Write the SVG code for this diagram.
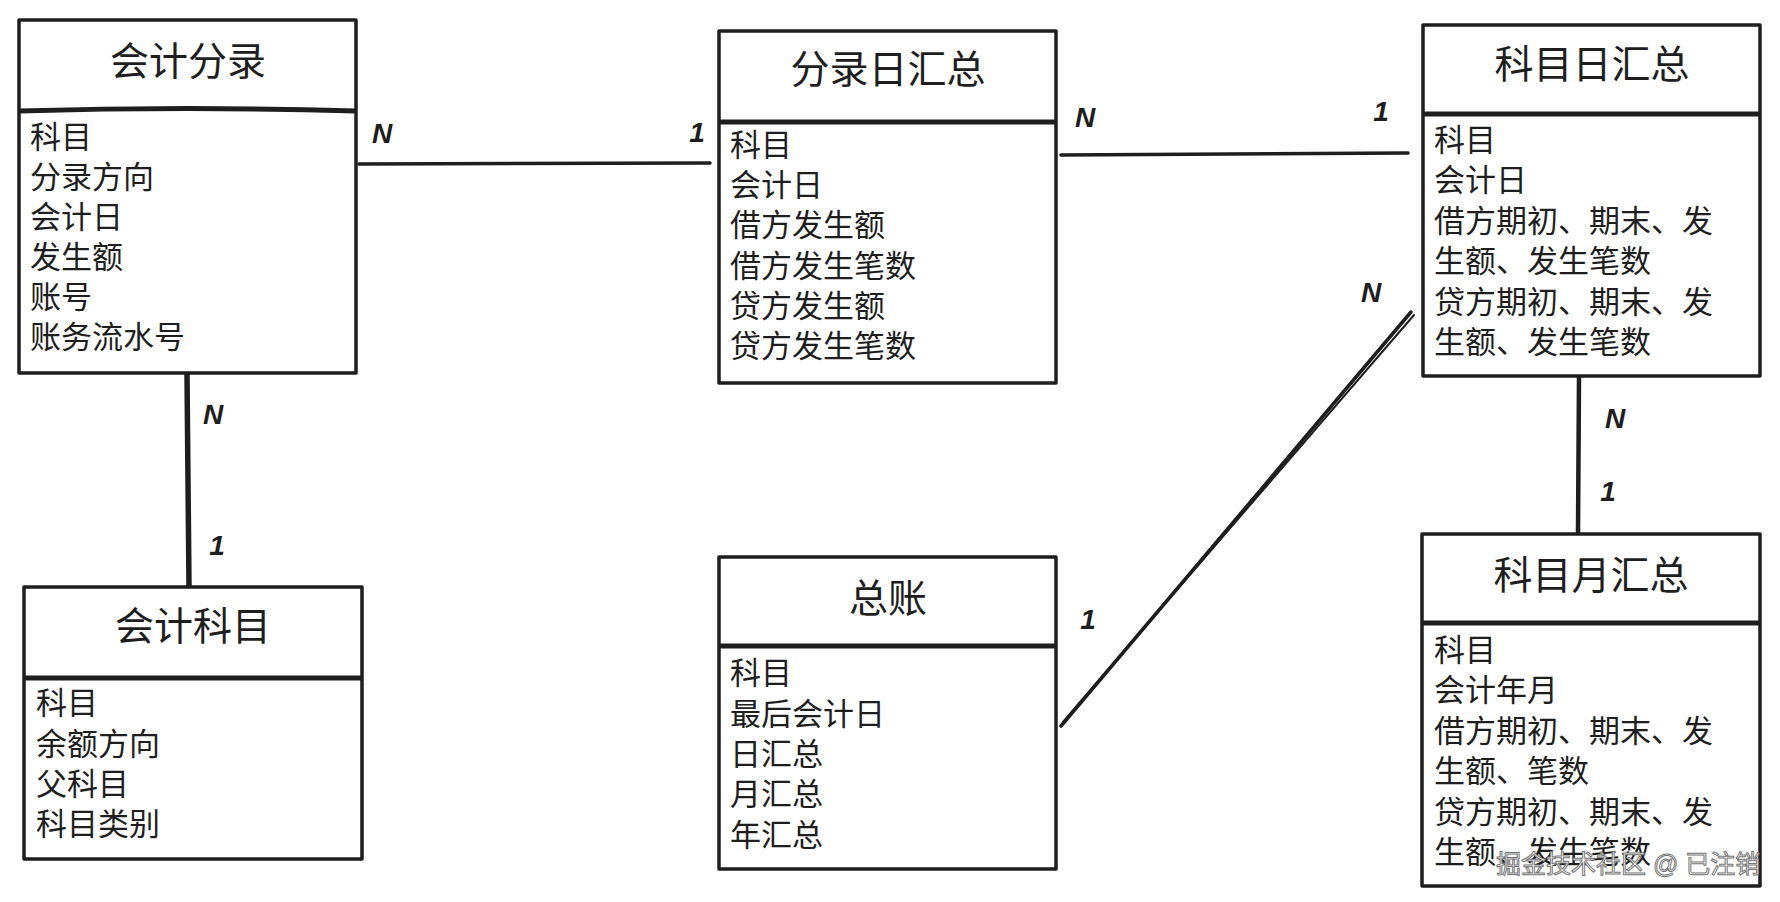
<svg xmlns="http://www.w3.org/2000/svg" width="1780" height="902" viewBox="0 0 1780 902">
<style>
.box{fill:#fff;stroke:#1e1e1e;stroke-width:3.5;stroke-linejoin:round}
.div{stroke:#1e1e1e;stroke-width:5;fill:none}
.title{font-family:"Liberation Sans","Noto Sans CJK SC",sans-serif;font-size:39px;fill:#1e1e1e;text-anchor:middle;dominant-baseline:central}
.attr{font-family:"Liberation Sans","Noto Sans CJK SC",sans-serif;font-size:31px;fill:#1e1e1e;dominant-baseline:central}
.conn{stroke:#1e1e1e;stroke-width:3.5;fill:none;stroke-linecap:round}
.card{font-family:"Liberation Sans",sans-serif;font-size:28px;font-style:italic;font-weight:bold;fill:#1e1e1e;dominant-baseline:central;text-anchor:middle}
.wm{font-family:"Liberation Sans","Noto Sans CJK SC",sans-serif;font-size:25px;fill:#fff;stroke:#777;stroke-width:1;dominant-baseline:central}
</style>
<rect width="1780" height="902" fill="#fff"/>
<g id="connectors">
<path class="conn" d="M359 164 L710 163"/>
<path class="conn" d="M1061 155 L1408 153"/>
<path class="conn" d="M187 374 L189 587" style="stroke-width:5.5"/>
<path class="conn" d="M1061 726 L1411 312"/>
<path class="conn" d="M1063 722 L1414 315" style="stroke-width:2"/>
<path class="conn" d="M1579 377 L1578 534" style="stroke-width:4.5"/>
<text class="card" x="382" y="133">N</text>
<text class="card" x="697" y="132">1</text>
<text class="card" x="1085" y="117">N</text>
<text class="card" x="1381" y="111">1</text>
<text class="card" x="213" y="414">N</text>
<text class="card" x="217" y="545">1</text>
<text class="card" x="1371" y="292">N</text>
<text class="card" x="1088" y="619">1</text>
<text class="card" x="1615" y="418">N</text>
<text class="card" x="1608" y="491">1</text>
</g>
<g id="kjfl">
<rect class="box" x="19" y="20" width="337" height="353"/>
<path class="div" d="M19 111 Q188 106 356 111"/>
<text class="title" x="188" y="61">会计分录</text>
<text class="attr" x="30" y="137">科目</text>
<text class="attr" x="30" y="177">分录方向</text>
<text class="attr" x="30" y="217">会计日</text>
<text class="attr" x="30" y="257">发生额</text>
<text class="attr" x="30" y="297">账号</text>
<text class="attr" x="30" y="337">账务流水号</text>
</g>
<g id="kjkm">
<rect class="box" x="24" y="587" width="338" height="272"/>
<path class="div" d="M24 678 L362 678"/>
<text class="title" x="193" y="626">会计科目</text>
<text class="attr" x="36" y="703">科目</text>
<text class="attr" x="36" y="744">余额方向</text>
<text class="attr" x="36" y="784">父科目</text>
<text class="attr" x="36" y="824">科目类别</text>
</g>
<g id="flrhz">
<rect class="box" x="719" y="31" width="337" height="352"/>
<path class="div" d="M719 122 L1056 122"/>
<text class="title" x="888" y="69">分录日汇总</text>
<text class="attr" x="730" y="145">科目</text>
<text class="attr" x="730" y="185">会计日</text>
<text class="attr" x="730" y="225">借方发生额</text>
<text class="attr" x="730" y="266">借方发生笔数</text>
<text class="attr" x="730" y="306">贷方发生额</text>
<text class="attr" x="730" y="346">贷方发生笔数</text>
</g>
<g id="kmrhz">
<rect class="box" x="1423" y="25" width="337" height="351"/>
<path class="div" d="M1423 114 L1760 114"/>
<text class="title" x="1592" y="64">科目日汇总</text>
<text class="attr" x="1434" y="140">科目</text>
<text class="attr" x="1434" y="180">会计日</text>
<text class="attr" x="1434" y="221">借方期初、期末、发</text>
<text class="attr" x="1434" y="261">生额、发生笔数</text>
<text class="attr" x="1434" y="302">贷方期初、期末、发</text>
<text class="attr" x="1434" y="342">生额、发生笔数</text>
</g>
<g id="zz">
<rect class="box" x="719" y="557" width="337" height="312"/>
<path class="div" d="M719 646 L1056 646"/>
<text class="title" x="888" y="598">总账</text>
<text class="attr" x="730" y="673">科目</text>
<text class="attr" x="730" y="714">最后会计日</text>
<text class="attr" x="730" y="754">日汇总</text>
<text class="attr" x="730" y="794">月汇总</text>
<text class="attr" x="730" y="835">年汇总</text>
</g>
<g id="kmyhz">
<rect class="box" x="1422" y="534" width="338" height="352"/>
<path class="div" d="M1422 623 L1760 623"/>
<text class="title" x="1591" y="575">科目月汇总</text>
<text class="attr" x="1434" y="650">科目</text>
<text class="attr" x="1434" y="690">会计年月</text>
<text class="attr" x="1434" y="731">借方期初、期末、发</text>
<text class="attr" x="1434" y="771">生额、笔数</text>
<text class="attr" x="1434" y="812">贷方期初、期末、发</text>
<text class="attr" x="1434" y="852">生额、发生笔数</text>
</g>
<text class="wm" x="1496" y="864">掘金技术社区 @ 已注销</text>
</svg>
